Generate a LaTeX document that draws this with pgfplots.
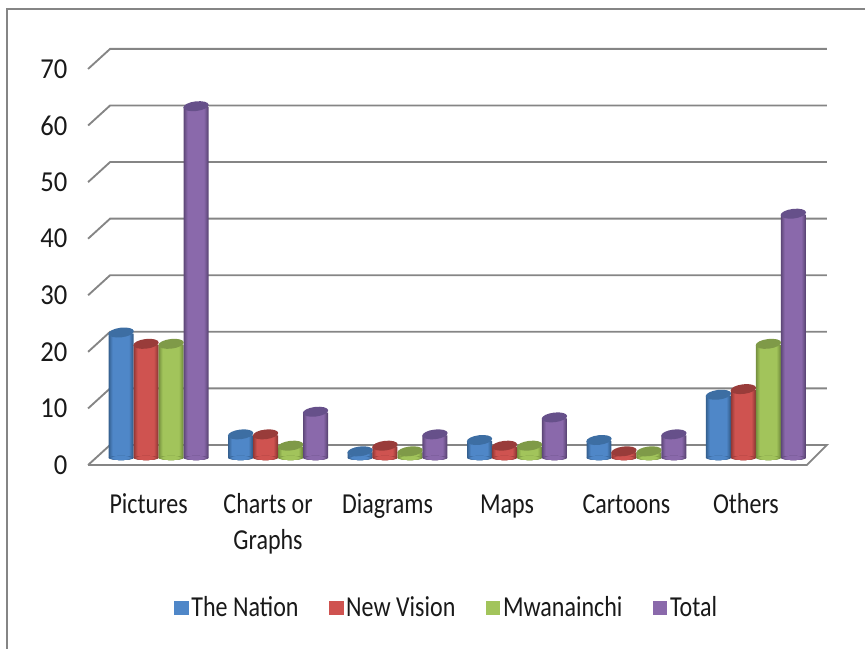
\documentclass[border=0pt]{standalone}
\usepackage{fontspec}
\setmainfont[FakeStretch=0.83]{Carlito}
\setsansfont[FakeStretch=0.92]{Carlito}
\usepackage{pgfplots}
\usepackage{pgfplotstable}
\pgfplotsset{compat=1.18}

% main (body), edge and top colours of the four series
\definecolor{bluemain}{HTML}{4F87C8}\definecolor{blueedge}{HTML}{35608F}\definecolor{bluecap}{HTML}{3D6EA3}
\definecolor{redmain}{HTML}{CF5350}\definecolor{rededge}{HTML}{913836}\definecolor{redcap}{HTML}{993C3A}
\definecolor{greenmain}{HTML}{A2C45B}\definecolor{greenedge}{HTML}{76913F}\definecolor{greencap}{HTML}{7F9A48}
\definecolor{purplemain}{HTML}{8A69AB}\definecolor{purpleedge}{HTML}{5D4778}\definecolor{purplecap}{HTML}{66508A}
\definecolor{gridgray}{HTML}{858585}

% tilted ellipse for the top of a cylinder, flatter one for its base
\pgfdeclareplotmark{cyltop}{%
  \pgfpathellipse{\pgfqpoint{0pt}{0.75pt}}{\pgfqpoint{9.5pt}{1.1pt}}{\pgfqpoint{-0.35pt}{3.6pt}}%
  \pgfusepathqfill}
\pgfdeclareplotmark{cylbase}{%
  \pgfpathellipse{\pgfpointorigin}{\pgfqpoint{9.4pt}{0pt}}{\pgfqpoint{0pt}{1.6pt}}%
  \pgfusepathqfill}

\pgfplotstableread{
i nation vision mwana total zero
0 22 20 20 62 0
1 4  4  2  8  0
2 1  2  1  4  0
3 3  2  2  7  0
4 3  1  1  4  0
5 11 12 20 43 0
}\chartdata

% one concentric slice of a cylinder: #1 column, #2 colour stem, #3 bar shift,
% #4 bar width, #5 share of the edge colour, #6 horizontal scale of the base ellipse
\newcommand{\cylslice}[6]{%
  \addplot[forget plot, only marks, mark=cylbase,
    mark options={xshift=#3pt, xscale=#6, fill=#2edge!#5!#2main, draw=none}]
    table[x=i, y=zero] {\chartdata};
  \addplot[forget plot, ybar, bar width=#4pt, bar shift=#3pt, draw=none, fill=#2edge!#5!#2main]
    table[x=i, y=#1] {\chartdata};
}

% #1 column, #2 colour stem, #3 bar shift in pt, #4 legend text
\newcommand{\cylinders}[4]{%
  \cylslice{#1}{#2}{#3}{18.75}{100}{1}
  \cylslice{#1}{#2}{#3}{17.25}{72}{0.92}
  \cylslice{#1}{#2}{#3}{15.75}{45}{0.84}
  \cylslice{#1}{#2}{#3}{14.25}{20}{0.76}
  \cylslice{#1}{#2}{#3}{12.75}{0}{0.68}
  \addplot[only marks, mark=cyltop, mark options={xshift=#3pt, fill=#2cap, draw=none},
    legend image code/.code={%
      \pgfpathrectangle{\pgfqpoint{0pt}{-5.2pt}}{\pgfqpoint{11pt}{10.4pt}}%
      \pgfsetfillcolor{#2main}\pgfusepathqfill}]
    table[x=i, y=#1] {\chartdata};
  \addlegendentry{#4}
}

\begin{document}
\begin{tikzpicture}
\begin{axis}[
  scale only axis, width=648.75pt, height=486.75pt,
  xmin=-1.3264, xmax=5.912, ymin=-33.75, ymax=80.92,
  axis line style={draw=none}, major tick length=0pt,
  xtick={0,1,2,3,4,5},
  xticklabels={\strut Pictures,{\strut Charts or\\Graphs},\strut Diagrams,\strut Maps,\strut Cartoons,\strut Others},
  ytick={0,10,20,30,40,50,60,70},
  /pgf/number format/assume math mode=true,
  x tick label style={font=\fontsize{21.7}{27}\selectfont, text=black!90, align=center, anchor=north, xshift=-7.5pt, yshift=124pt},
  y tick label style={font=\sffamily\fontsize{21.7}{27}\selectfont, text=black!90, anchor=east, xshift=54pt, yshift=-5.25pt},
  legend style={at={(0.5167,0.0632)}, anchor=center, draw=none, fill=none, text=black!90,
    font=\fontsize{21.7}{27}\selectfont, legend columns=4, legend cell align=left,
    /tikz/every even column/.append style={column sep=20.75pt}},
]
  % outer frame, left and top sides
  \addplot[forget plot, gridgray, line width=1.6pt] coordinates {(-1.2678,-33.75) (-1.2678,79.33) (5.912,79.33)};
  % floor of the chart
  \addplot[forget plot, gridgray, line width=1.4pt, fill=white] coordinates {(-0.59,-1.24) (5.4268,-1.24) (5.594,2.30) (-0.4059,2.30) (-0.59,-1.24)};
  % wall and side grid lines
  \addplot[forget plot, gridgray, line width=1.4pt] coordinates {(-0.59,8.76) (-0.4059,12.30) (5.594,12.30)};
  \addplot[forget plot, gridgray, line width=1.4pt] coordinates {(-0.59,18.76) (-0.4059,22.30) (5.594,22.30)};
  \addplot[forget plot, gridgray, line width=1.4pt] coordinates {(-0.59,28.76) (-0.4059,32.30) (5.594,32.30)};
  \addplot[forget plot, gridgray, line width=1.4pt] coordinates {(-0.59,38.76) (-0.4059,42.30) (5.594,42.30)};
  \addplot[forget plot, gridgray, line width=1.4pt] coordinates {(-0.59,48.76) (-0.4059,52.30) (5.594,52.30)};
  \addplot[forget plot, gridgray, line width=1.4pt] coordinates {(-0.59,58.76) (-0.4059,62.30) (5.594,62.30)};
  \addplot[forget plot, gridgray, line width=1.4pt] coordinates {(-0.59,68.76) (-0.4059,72.30) (5.594,72.30)};
  % the four series of cylinders
  \cylinders{nation}{blue}{-28.1}{The Nation}
  \cylinders{vision}{red}{-9.4}{New Vision}
  \cylinders{mwana}{green}{9.4}{Mwanainchi}
  \cylinders{total}{purple}{28.1}{Total}
\end{axis}
\end{tikzpicture}
\end{document}
